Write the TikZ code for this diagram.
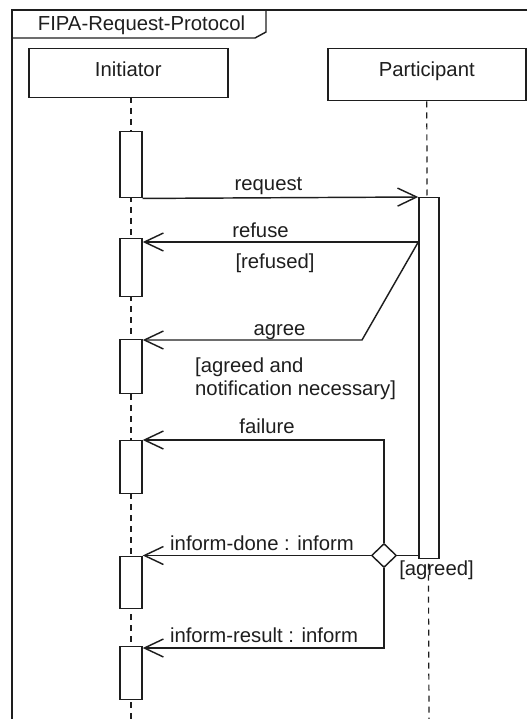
\documentclass[tikz,border=0pt]{standalone}
\usepackage{fontspec}
\setmainfont{Liberation Sans}
\usetikzlibrary{arrows.meta,shapes.geometric}
\definecolor{ink}{HTML}{1E1E1E}
\begin{document}
\begin{tikzpicture}[x=1pt,y=-1pt,
  every node/.style={font=\fontsize{20.3}{23}\selectfont, text=ink},
  ln/.style={draw=ink, line width=1.45pt},
  actor/.style={ln, fill=white, rectangle, inner sep=0pt, line width=1.5pt},
  bar/.style={ln, fill=white, rectangle, inner sep=0pt, minimum width=22pt, anchor=north},
  life/.style={draw=ink, line width=1.2pt, dash pattern=on 6pt off 5pt},
  msg/.style={ln, -{Straight Barb[length=19pt,width=18pt,line width=1.45pt]}},
  lbl/.style={anchor=base, inner sep=0pt},
  choice/.style={ln, fill=white, diamond, shape aspect=1, inner sep=0pt, minimum width=25pt, minimum height=24pt}]
\useasboundingbox (0,0) rectangle (527,719);
% frame
\draw[ln] (527,10) -- (12,10) -- (12,719);
\draw[ln] (12,38) -- (255,38) -- (266,32) -- (266,10);
\node[lbl] (title) at (141.5,31) {FIPA-Request-Protocol};
% actors
\node[actor, minimum width=199pt, minimum height=49pt, anchor=north west] (ini) at (28,48) {};
\node[lbl] (initxt) at (ini.center |- 0,77) {Initiator};
\node[actor, minimum width=198pt, minimum height=52pt, anchor=north west] (par) at (327,48) {};
\node[lbl] (partxt) at (par.center |- 0,77) {Participant};
% lifelines
\coordinate (iend) at (131,719);
\coordinate (pend) at (429,719);
\draw[life] (131,97) -- (iend);
\draw[life] (par.south) -- (pend);
% bars
\node[bar, minimum height=66pt] (b1) at (131,131) {};
\node[bar, minimum height=58pt] (b2) at (131,238) {};
\node[bar, minimum height=54pt] (b3) at (131,339) {};
\node[bar, minimum height=53pt] (b4) at (131,440) {};
\node[bar, minimum height=52pt] (b5) at (131,556) {};
\node[bar, minimum height=53pt] (b6) at (131,646) {};
\node[bar, minimum width=20pt, minimum height=361pt] (pb) at (429,197) {};
% request
\draw[msg] (b1.south east) -- (pb.north west);
\node[lbl] (lreq) at (268.5,191) {request};
% refuse
\coordinate (ry) at (0,242);
\draw[msg] (pb.west |- ry) -- (b2.east |- ry);
\node[lbl] (lref) at (260.5,237) {refuse};
\node[lbl] (lrefd) at (275,268) {[refused]};
% agree
\coordinate (ac) at (362,340);
\draw[msg] (pb.west |- ry) -- (ac) -- (b3.east |- ac);
\node[lbl] (lagr) at (279.5,335) {agree};
\node[lbl, anchor=base west] (lagd1) at (195,372) {[agreed and};
\node[lbl, anchor=base west] (lagd2) at (195,395) {notification necessary]};
% choice
\node[choice] (dia) at (384,555.5) {};
\draw[ln] (pb.west |- dia.east) -- (dia.east);
\node[lbl] (lagreed) at (436.5,575) {[agreed]};
% failure
\draw[msg] (dia.north) -- (dia.north |- b4.north) -- (b4.north east);
\node[lbl] (lfail) at (267,433) {failure};
% inform-done
\draw[msg] (dia.west) -- (b5.east |- dia.west);
\node[lbl] (ldone) at (262,550) {inform-done : inform};
% inform-result
\coordinate (iry) at (0,648);
\draw[msg] (dia.south) -- (dia.south |- iry) -- (b6.east |- iry);
\node[lbl] (lres) at (264,642) {inform-result : inform};
\end{tikzpicture}
\end{document}
